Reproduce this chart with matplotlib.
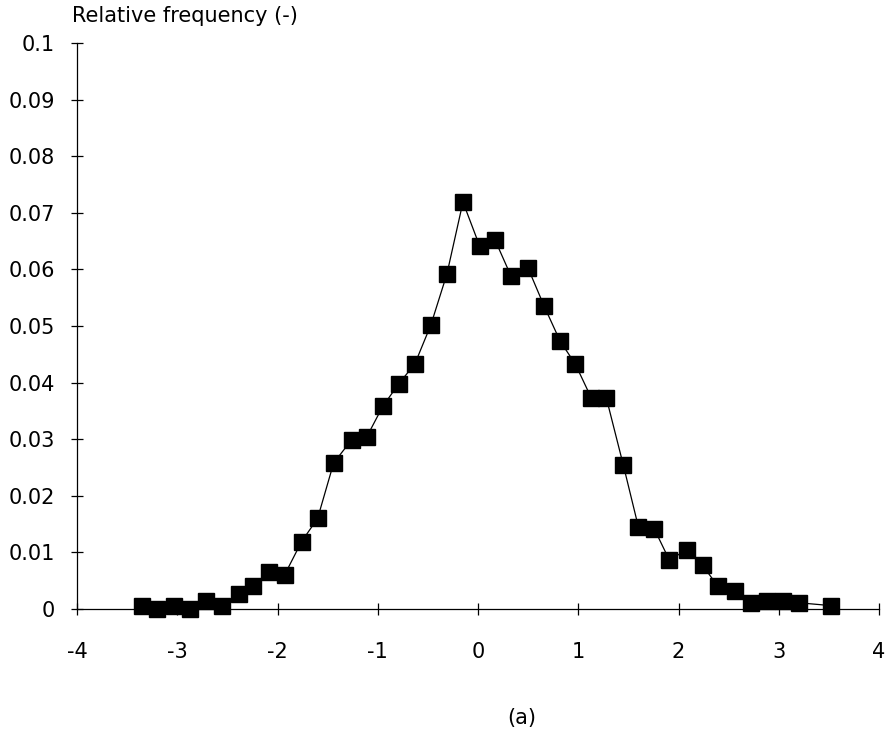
import numpy as np
import matplotlib
matplotlib.use('Agg')
import matplotlib.pyplot as plt

# values
x_vals = [-3.35, -3.20, -3.03, -2.87, -2.71, -2.55, -2.38, -2.24, -2.08, -1.93,
          -1.76, -1.60, -1.44, -1.26, -1.11, -0.95, -0.79, -0.63, -0.47, -0.31,
          -0.15, 0.015, 0.17, 0.33, 0.50, 0.66, 0.82, 0.97, 1.13, 1.28,
          1.45, 1.60, 1.76, 1.91, 2.08, 2.24, 2.39, 2.56, 2.72, 2.88,
          3.04, 3.20, 3.52]
freq = [0.0006, 0.0000, 0.0006, 0.0000, 0.0015, 0.0006, 0.0026, 0.0040, 0.0065, 0.0060,
        0.0119, 0.0160, 0.0258, 0.0299, 0.0304, 0.0358, 0.0398, 0.0433, 0.0502, 0.0592,
        0.0719, 0.0642, 0.0652, 0.0588, 0.0602, 0.0535, 0.0473, 0.0433, 0.0373, 0.0373,
        0.0254, 0.0145, 0.0141, 0.0086, 0.0105, 0.0077, 0.0041, 0.0031, 0.0011, 0.0015,
        0.0015, 0.0011, 0.0006]

x_ticks = [-4, -3, -2, -1, 0, 1, 2, 3, 4]
y_ticks = [0, 0.01, 0.02, 0.03, 0.04, 0.05, 0.06, 0.07, 0.08, 0.09, 0.1]
y_labels = ['0', '0.01', '0.02', '0.03', '0.04', '0.05', '0.06', '0.07', '0.08', '0.09', '0.1']

plt.rcParams['font.family'] = ['DejaVu Sans']

fig = plt.figure(figsize=(8.91, 7.35), dpi=100)
ax = fig.add_axes([77 / 891, 126 / 735, 802 / 891, 566 / 735])

ax.plot(x_vals, freq, color='black', lw=0.9, marker='s', markersize=11,
        markerfacecolor='black', markeredgecolor='black', clip_on=False)

ax.set_xlim(-4, 4)
ax.set_ylim(0, 0.1)
ax.set_xticks(x_ticks)
ax.set_xticklabels([str(t) for t in x_ticks])
ax.set_yticks(y_ticks)
ax.set_yticklabels(y_labels)

for side in ['top', 'right']:
    ax.spines[side].set_visible(False)
for side in ['left', 'bottom']:
    ax.spines[side].set_linewidth(0.9)

ax.tick_params(axis='both', direction='inout', length=8, width=0.9, labelsize=15)
ax.tick_params(axis='y', pad=12)
ax.tick_params(axis='x', pad=20)

fig.text(72 / 891, 1 - 16 / 735, 'Relative frequency (-)', fontsize=15, va='center', ha='left')
fig.text(522 / 891, 1 - 718 / 735, '(a)', fontsize=15, va='center', ha='center')

fig.savefig('out.png', dpi=100)
